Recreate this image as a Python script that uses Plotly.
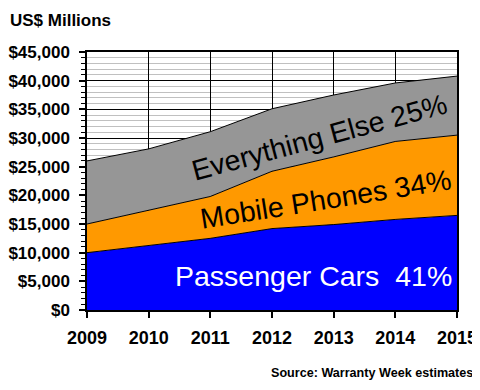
import plotly.graph_objects as go

years = [2009, 2010, 2011, 2012, 2013, 2014, 2015]
passenger_cars = [10000, 11200, 12500, 14200, 14900, 15800, 16500]
mobile_phones = [5000, 6200, 7300, 10000, 11800, 13600, 14000]
everything_else = [11000, 10700, 11300, 10900, 10800, 10200, 10300]

series_names = ["Passenger Cars", "Mobile Phones", "Everything Else"]
series_colors = ["#0000FF", "#FF9900", "#969696"]
series_values = [passenger_cars, mobile_phones, everything_else]

FONT = "Liberation Sans, Arial, sans-serif"
# page body has an 8px default margin; the figure is shrunk so the page never scrolls
OFF = 8
W, H = 480 - OFF, 390 - 2 * OFF
PL, PT, PW, PH = 87.3, 51.7, 370.0, 258.3  # plot area in page px

fig = go.Figure()
for name, vals, col in zip(series_names, series_values, series_colors):
    fig.add_trace(go.Scatter(
        x=years, y=vals, name=name, mode="lines",
        stackgroup="one", fillcolor=col,
        line=dict(color="#000000", width=1),
        hoverinfo="x+y+name",
    ))

fig.update_layout(
    width=W, height=H,
    margin=dict(l=PL - OFF, r=W - (PL - OFF) - PW, t=PT - OFF, b=H - (PT - OFF) - PH,
                autoexpand=False, pad=0),
    paper_bgcolor="white", plot_bgcolor="white",
    showlegend=False,
    font=dict(family=FONT, color="black"),
)

fig.update_xaxes(
    range=[2009, 2015], tickmode="array", tickvals=years, ticktext=[str(y) for y in years],
    showgrid=True, gridcolor="black", gridwidth=1,
    showline=True, linecolor="black", linewidth=1.5, mirror=True,
    ticks="outside", ticklen=6, tickcolor="black", tickwidth=1.5,
    tickfont=dict(size=18, family=FONT, color="black", weight="bold"),
    ticklabelstandoff=5, automargin=False,
    zeroline=False,
)
fig.update_yaxes(
    range=[0, 45000], dtick=5000, tickprefix="$", separatethousands=True, tickformat=",d",
    showgrid=True, gridcolor="black", gridwidth=1,
    minor=dict(dtick=1000, showgrid=True, gridcolor="#C0C0C0", gridwidth=1,
               ticks="outside", ticklen=4, tickcolor="black", tickwidth=1),
    showline=True, linecolor="black", linewidth=1.5, mirror=True,
    ticks="outside", ticklen=6, tickcolor="black", tickwidth=1.5,
    tickfont=dict(size=17, family=FONT, color="black", weight="bold"),
    ticklabelstandoff=6, automargin=False,
    zeroline=False,
)

fig.add_annotation(x=(8.5 - PL) / PW, y=(310 - 20) / PH, xref="paper", yref="paper",
                   xanchor="left", yanchor="middle",
                   text="<b>US$ Millions</b>", showarrow=False,
                   font=dict(size=17, family=FONT, color="black"))
fig.add_annotation(x=2012.67, y=5900, xref="x", yref="y",
                   text="Passenger Cars\u00a0\u00a041%", showarrow=False,
                   font=dict(size=28.5, family=FONT, color="white"))
fig.add_annotation(x=2012.88, y=19300, xref="x", yref="y",
                   text="Mobile Phones 34%", showarrow=False, textangle=-9,
                   font=dict(size=28.5, family=FONT, color="black"))
fig.add_annotation(x=2012.77, y=30100, xref="x", yref="y",
                   text="Everything Else 25%", showarrow=False, textangle=-15,
                   font=dict(size=28.5, family=FONT, color="black"))
fig.add_annotation(x=(475.5 - PL) / PW, y=(310 - 372.7) / PH, xref="paper", yref="paper",
                   xanchor="right", yanchor="middle",
                   text="<b>Source: Warranty Week estimates</b>", showarrow=False,
                   font=dict(size=12.6, family=FONT, color="black"))

fig.write_html("out.html")
